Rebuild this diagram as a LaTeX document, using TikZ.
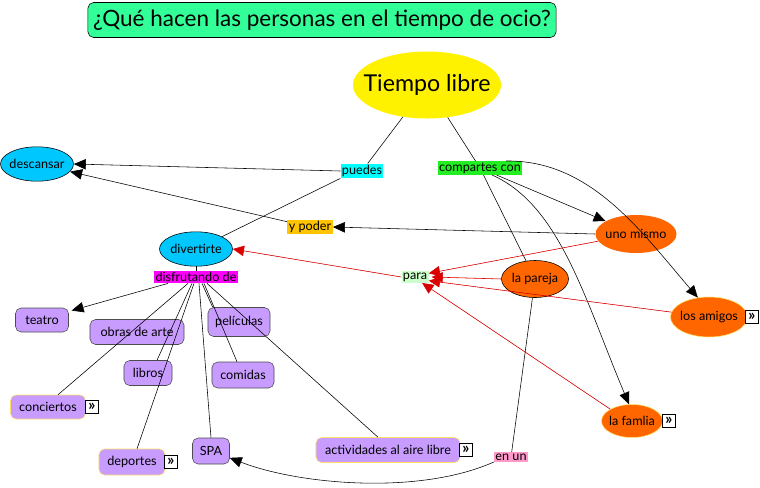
\documentclass[tikz,border=0pt]{standalone}
\usepackage{fontspec}
\setmainfont{Lato}
\usetikzlibrary{arrows.meta,shapes.geometric}

\definecolor{mint}{HTML}{33FF99}
\definecolor{skyblue}{HTML}{00C8FF}
\definecolor{lila}{HTML}{C89BFF}
\definecolor{naranja}{HTML}{FF6600}
\definecolor{glow}{HTML}{FFE066}
\definecolor{linkcyan}{HTML}{00FFFF}
\definecolor{linkgreen}{HTML}{22EE22}
\definecolor{linkgold}{HTML}{FFC400}
\definecolor{linkmagenta}{HTML}{FF00FF}
\definecolor{linkpale}{HTML}{CCFFCC}
\definecolor{linkpink}{HTML}{FF99CC}

\begin{document}
\begin{tikzpicture}[
  x=0.025cm, y=-0.025cm,
  font=\fontsize{9}{10}\selectfont,
  fixedsize/.style={
    execute at begin node={\hbox to 0pt\bgroup\hss},
    execute at end node={\hss\egroup}
  },
  title/.style={
    draw=black,
    rounded corners=4pt,
    fill=mint,
    minimum width=11.7cm,
    minimum height=0.875cm,
    font=\fontsize{16}{18}\selectfont
  },
  topic/.style={
    ellipse,
    fixedsize,
    fill=yellow,
    inner sep=0pt,
    minimum width=3.7cm,
    minimum height=1.675cm,
    font=\fontsize{16.5}{18}\selectfont
  },
  action/.style={
    ellipse,
    fixedsize,
    draw=black,
    fill=skyblue,
    inner sep=0pt,
    minimum width=1.825cm,
    minimum height=0.86cm
  },
  company/.style={
    ellipse,
    fixedsize,
    fill=naranja,
    inner sep=0pt
  },
  activity/.style={
    draw=black!70,
    rounded corners=4pt,
    fill=lila,
    inner sep=0pt,
    minimum height=0.625cm
  },
  linkword/.style={
    inner xsep=1pt,
    inner ysep=1pt
  },
  more/.style={
    draw=black,
    fill=white,
    inner sep=0pt,
    minimum size=0.33cm,
    font=\fontsize{11}{11}\selectfont\bfseries
  },
  flow/.style={-{Triangle[length=3mm,width=2.6mm]}, draw=black},
  redflow/.style={-{Triangle[length=2.8mm,width=2.6mm]}, draw=red!85!black, fill=red}
]
  \useasboundingbox (0,0) rectangle (760,487);

  \node[title] (question) at (322,20) {¿Qué hacen las personas en el tiempo de ocio?};
  \node[topic] (tiempo) at (427,85) {Tiempo libre};

  \node[action] (descansar) at (37,164) {descansar};
  \node[action] (divertirte) at (196,249) {divertirte};

  \node[linkword, fill=linkcyan] (puedes) at (362,171) {puedes};
  \node[linkword, fill=linkgreen] (compartes) at (480,168) {compartes con};
  \node[linkword, fill=linkgold] (ypoder) at (310,227) {y poder};
  \node[linkword, fill=linkmagenta] (disfrutando) at (196,277) {disfrutando de};
  \node[linkword, fill=linkpale] (para) at (415,277) {para};
  \node[linkword, fill=linkpink] (enun) at (511,457) {en un};

  \node[company, minimum width=2.025cm, minimum height=0.95cm] (uno) at (636,234) {uno mismo};
  \node[company, draw=black, minimum width=1.675cm, minimum height=0.925cm] (pareja) at (535,279) {la pareja};
  \node[company, draw=glow, minimum width=1.925cm, minimum height=1.0cm] (amigos) at (709,317) {los amigos};
  \node[company, draw=glow, minimum width=1.525cm, minimum height=0.825cm] (familia) at (632,421) {la famlia};
  \node[more] (amigosmore) at (752,317) {»};
  \node[more] (familiamore) at (669,421) {»};

  \node[activity, minimum width=1.325cm, minimum height=0.6cm] (teatro) at (42,320) {teatro};
  \node[activity, minimum width=2.35cm] (obras) at (137,332) {obras de arte};
  \node[activity, minimum width=1.55cm, minimum height=0.725cm] (peliculas) at (239,322) {películas};
  \node[activity, minimum width=1.2cm] (libros) at (148,373) {libros};
  \node[activity, minimum width=1.55cm, minimum height=0.65cm] (comidas) at (243,375) {comidas};
  \node[activity, draw=glow, minimum width=1.875cm, minimum height=0.6cm] (conciertos) at (48,407) {conciertos};
  \node[activity, draw=glow, minimum width=1.65cm, minimum height=0.65cm] (deportes) at (132,462) {deportes};
  \node[activity, minimum width=0.925cm, minimum height=0.65cm] (spa) at (211,451) {SPA};
  \node[activity, draw=glow, minimum width=3.6cm] (actividades) at (388,450) {actividades al aire libre};
  \node[more] (concmore) at (92,407) {»};
  \node[more] (depmore) at (171,462) {»};
  \node[more] (actmore) at (466,450) {»};

  \draw (tiempo) -- (puedes);
  \draw (tiempo) -- (compartes);
  \draw[flow] (puedes.west) -- (descansar.east);
  \draw (puedes.south west) -- (divertirte.north east);
  \draw[flow] (compartes) -- (uno);
  \draw (compartes) -- (pareja);
  \draw[flow] (compartes.15) .. controls (590,160) and (640,230) .. (amigos.120);
  \draw[flow] ([xshift=0.3cm]compartes.south) .. controls (560,205) and (585,300) .. (familia.100);
  \draw[flow] (uno.west) -- (ypoder.east);
  \draw[flow] (ypoder) -- (descansar);

  \draw[redflow] (uno) -- (para.15);
  \draw[redflow] (pareja.west) -- ([xshift=2pt]para.east);
  \draw[redflow] (amigos) -- (para.-15);
  \draw[redflow] (familia.north west) -- (para.-40);
  \draw[redflow] (para.west) -- (divertirte.east);

  \draw (pareja) -- (enun);
  \draw[flow] (enun.south west) .. controls (420,495) and (300,485) .. (spa.-20);

  \draw (divertirte) -- (disfrutando);
  \draw[flow] ([xshift=-0.7cm]disfrutando.south) -- ([xshift=2pt,yshift=-2pt]teatro.north east);
  \draw ([xshift=-0.2cm]disfrutando.south) -- ([xshift=0.25cm]conciertos.north);
  \draw ([xshift=-0.1cm]disfrutando.south) -- ([xshift=0.225cm]libros.north);
  \draw ([xshift=-0.05cm]disfrutando.south) -- ([xshift=0.125cm]deportes.north);
  \draw ([xshift=0.075cm]disfrutando.south) -- (spa.north);
  \draw ([xshift=0.15cm]disfrutando.south) -- ([xshift=0.125cm]peliculas.north west);
  \draw ([xshift=0.2cm]disfrutando.south) -- ([xshift=-0.15cm]comidas.north);
  \draw ([xshift=0.275cm]disfrutando.south) -- ([xshift=-0.25cm]actividades.north);
\end{tikzpicture}
\end{document}
